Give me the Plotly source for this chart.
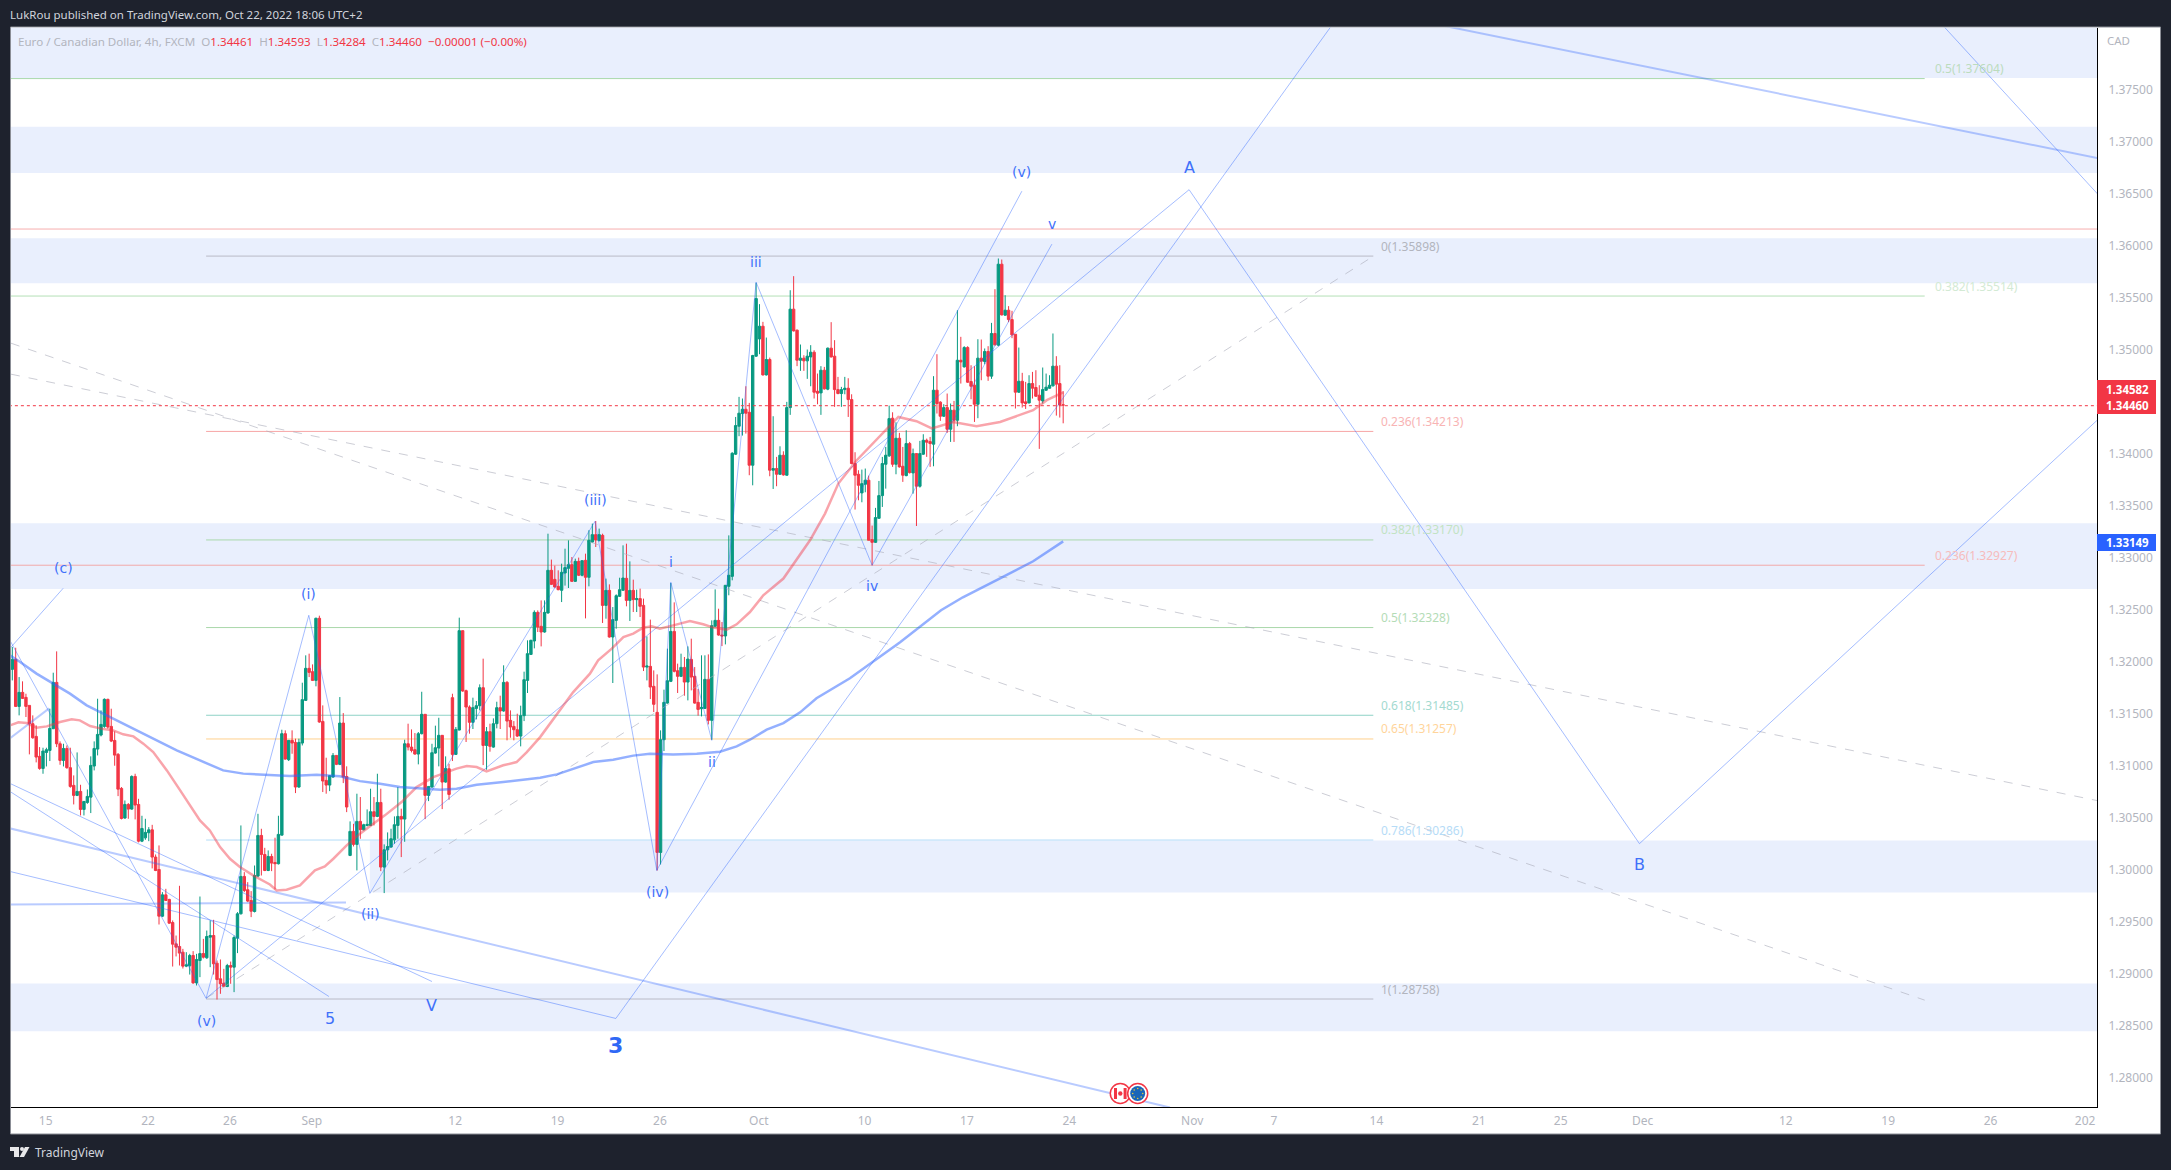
import plotly.graph_objects as go

# prices below are kept in points above 1.0 (32015 = 1.32015)
opens = [
    31919,32015,31563,31698,31650,31573,31397,31275,31083,30967,31121,31140,31349,31794,31204,31044,31159,30974,30804,30708,
    30746,30573,30640,30691,30990,31153,31288,31371,31631,31371,31236,31102,30775,30490,30621,30576,30890,30621,30268,30300,
    30349,30377,30115,29996,29547,29752,29708,29486,29281,29256,29201,29067,29070,29169,28906,29121,29188,29147,29345,29361,
    29095,28945,28903,28871,29073,29057,29336,29570,29929,29801,29698,29592,29932,30323,30140,29986,
    30121,30063,30051,30326,31301,31051,31237,31217,30788,31211,31621,31929,31897,31813,32410,31419,30852,30807,30884,31092,
    31006,31403,30890,30131,30362,30237,30458,30378,30419,30419,30551,30506,30640,30019,30185,30211,30281,30419,30506,30480,
    31204,31172,31147,31105,31301,31487,30708,30788,31115,31163,31285,30836,30964,31647,31102,31336,32291,31714,31557,31410,
    31544,31570,31743,31188,31320,31172,31397,31551,31519,31794,31429,31371,31339,31278,31474,31813,32063,32192,32467,
    32333,32278,32461,32871,32784,32717,32679,32845,32890,32925,32765,32957,32823,32967,32804,33143,33214,33156,33207,32534,
    32679,32230,32390,32621,32679,32794,32582,32679,32589,32599,32534,31941,31948,31756,31506,30160,31243,31595,31804,32284,
    31906,31852,31938,31797,32015,31852,31602,31541,31544,31823,31429,32333,32390,32249,32240,32717,32813,
    33987,34256,34378,34419,34390,33881,34929,35095,35217,34749,34897,33833,33849,33794,33977,33785,34435,35381,35179,34890,
    34910,34884,34922,34967,34592,34576,34794,34612,35006,34929,34608,34570,34608,34621,34512,33897,33794,33615,33698,33737,
    33166,33140,33371,33589,33890,33971,
    34333,33890,34140,33871,33781,34089,33807,33993,33679,33987,34121,34108,34083,34602,34487,34352,34435,34227,34410,34313,
    34890,34826,35012,34685,34650,34467,34910,34878,34974,34737,35147,35035,35813,35323,35371,35281,35140,34583,34688,34490,
    34480,34666,34628,34554,34499,34602,34621,34644,34833,34666,34461,
]
highs = [
    32134,32127,31845,31804,31685,31573,31477,31381,31172,31166,31166,31541,31887,32092,31227,31204,31188,31166,30900,31121,
    30810,30653,30765,31083,31227,31637,31525,31640,31637,31541,31323,31115,30788,30659,30634,30900,30916,30675,30512,30483,
    30403,30425,30140,30227,29778,29810,29714,29506,29361,29839,29233,29201,29185,29211,29185,29736,29329,29409,29506,29512,
    29121,29131,29041,29089,29111,29361,29586,30419,29970,29874,29788,30034,30531,30387,30204,30179,
    30147,30301,30512,31339,31333,31237,31333,31253,31253,31791,32054,32070,31967,32416,32435,31573,31070,30900,31115,31092,
    31653,31499,30987,30458,30435,30724,30692,30435,30573,30772,30692,30916,30772,30237,30352,30387,30506,30788,30580,31243,
    31397,31342,31307,31317,31704,31487,30794,31204,31378,31454,31288,31083,31012,31685,31365,32416,32291,31724,31573,31647,
    31615,31775,32022,31365,31397,31448,31608,31666,31958,31807,31525,31422,31493,31570,31897,32198,32204,32486,32486,
    32582,32582,33223,32974,32916,32871,32935,33079,33159,32999,32983,32993,32964,33031,33256,33320,33345,33272,33223,32791,
    32736,32518,32640,32800,33111,33127,32957,32781,32685,32695,32599,32236,32397,31909,31871,31333,31724,32118,32749,32563,
    31974,32070,32038,32140,32214,31941,31730,32054,32054,32063,32390,32688,32502,32374,32727,33207,34006,
    34345,34538,34522,34640,34480,34942,35634,35429,35259,35108,34916,34352,33961,34063,34015,34490,35563,35698,35185,35041,
    34938,34993,35035,34986,34762,34833,34826,35012,35256,35083,34730,34634,34730,34717,34563,34006,33833,33839,33849,33781,
    33301,33471,33730,33961,34057,34454,
    34390,34294,34192,34057,34217,34105,34041,33993,34115,34179,34137,34153,34737,34948,34496,34467,34570,34474,34499,35371,
    35115,35025,35025,34842,34833,35092,35089,35003,35025,35249,35573,35868,35858,35515,35410,35365,35140,35012,34769,34682,
    34746,34778,34794,34650,34820,34762,34746,35147,34929,34842,34593,
]
lows = [
    31813,31557,31477,31634,31461,31102,31252,31025,30954,30916,30986,31038,31345,31172,31002,30986,30964,30781,30621,30701,
    30515,30515,30627,30538,30948,31092,31275,31358,31349,31220,30993,30701,30477,30483,30483,30570,30477,30256,30259,30281,
    30268,30006,29980,29467,29538,29692,29474,29063,29160,29073,29044,29057,28986,28897,28881,28961,29140,29137,29057,28986,
    28746,28801,28865,28865,28897,28817,29192,29563,29778,29682,29538,29583,29922,29938,29980,29980,
    29980,29804,30044,30323,31051,31038,31108,30730,30781,31188,31615,31845,31807,31756,31406,30740,30724,30749,30878,30999,
    30999,30826,30547,30124,30217,29987,30291,30371,30410,30413,30419,30499,29980,29769,30083,30205,30243,30291,30115,30262,
    31140,31121,31099,31006,31294,30480,30653,30781,31108,30987,30576,30830,30666,31038,31096,31333,31704,31221,31301,31346,
    31438,31525,30999,30955,31128,31166,31352,31346,31512,31237,31262,31237,31269,31179,31422,31692,32057,32121,32278,
    32140,32272,32454,32730,32704,32679,32566,32724,32701,32759,32759,32816,32813,32409,32717,33137,33095,33150,32365,32406,
    32224,31788,32310,32615,32672,32525,32384,32470,32470,32422,31903,31813,31634,31509,29986,30044,31134,31589,31797,31890,
    31692,31845,31666,31621,31717,31589,31474,31467,31538,31390,31243,32326,32243,32143,32159,32631,32775,
    33980,34160,34166,34185,33785,33688,34922,34948,34743,34743,33775,33653,33679,33788,33781,33781,34365,35166,34833,34788,
    34788,34711,34640,34522,34467,34365,34608,34602,34916,34442,34563,34442,34563,34345,33890,33455,33544,33525,33621,33160,
    32919,33134,33365,33480,33656,33961,
    33865,33794,33858,33721,33775,33801,33608,33297,33666,33980,33961,33865,33871,34378,34307,34345,34192,34105,34105,34256,
    34666,34820,34672,34515,34297,34333,34698,34852,34692,34711,35031,35025,35320,35317,35256,35102,34426,34576,34435,34422,
    34474,34522,34538,34038,34474,34595,34615,34637,34358,34339,34284,
]
closes = [
    32015,31563,31698,31640,31563,31397,31262,31076,30967,31134,31147,31352,31794,31204,31044,31159,30974,30794,30708,30746,
    30573,30650,30698,30996,31159,31294,31390,31631,31365,31230,31095,30768,30486,30621,30576,30890,30615,30268,30390,30352,
    30377,30115,29986,29547,29752,29698,29480,29278,29249,29192,29067,29079,29169,28906,29131,29188,29153,29352,29361,29089,
    28938,28897,28871,29073,29057,29342,29570,29929,29794,29692,29595,29938,30323,30140,29986,30121,
    30057,30051,30333,31301,31057,31237,31211,30788,31217,31628,31929,31890,31813,32410,31413,30846,30807,30897,31092,31006,
    31403,30884,30596,30362,30237,30458,30378,30426,30429,30551,30506,30640,30019,30185,30217,30291,30426,30506,30480,31204,
    31172,31140,31105,31301,31487,30708,30794,31118,31166,31285,30836,30967,30717,31102,31342,32291,31711,31557,31410,31551,
    31570,31743,31188,31320,31179,31397,31551,31519,31794,31422,31365,31339,31278,31474,31820,32070,32198,32467,32326,
    32278,32467,32871,32736,32711,32685,32852,32897,32925,32765,32957,32823,32964,32804,33159,33214,33163,33214,32534,32679,
    32230,32397,32627,32685,32797,32582,32679,32589,32599,32525,31941,31951,31749,31583,30160,31243,31602,31810,32284,31900,
    31852,31938,31797,32018,31845,31595,31534,31554,31823,31429,32339,32390,32249,32240,32727,32823,33996,
    34262,34381,34419,34381,33881,34935,35483,35217,34749,34897,33833,33849,33794,33977,33788,34435,35381,35172,34890,34910,
    34884,34929,34967,34583,34573,34794,34615,35006,34922,34608,34570,34608,34621,34512,33897,33785,33688,33704,33737,33160,
    33140,33378,33589,33897,33977,34329,
    33890,34140,33865,33785,34089,33810,33993,33679,33993,34121,34102,34089,34602,34474,34352,34435,34227,34410,34313,34890,
    34874,35012,34679,34640,34467,34910,34881,34974,34737,35147,35038,35813,35326,35371,35281,35134,34583,34688,34480,34474,
    34666,34621,34544,34506,34608,34631,34650,34833,34660,34461,34460,
]

ma_red_index = [-0.7,1.8,4.2,7.1,10.1,14,17.4,19.8,22.8,26.7,29.6,32.5,35.5,38.4,41.3,45.3,49.2,52.6,55,57.9,60.9,63.8,66.7,70.6,75.5,
    77.5,80.4,84.3,88.7,91.6,94.1,98,101.9,105.8,109.2,114.1,118.5,123.4,126.3,130.2,133.2,136.1,139,143.9,147.8,150.8,154.7,
    157.6,161,164.4,169.3,171.7,175.7,179.1,182,184.9,187.4,189.8,193.7,198.6,202.5,205.5,209.4,212.3,216.2,220.1,226,230.9,
    233.8,238.2,242.1,247.5,252.3,256.3,259.7,265,269.5,275.8,282.6,289.5,294.4,299.2,303.2,308]
ma_red_value = [31381,31410,31403,31359,31371,31413,31439,31429,31374,31345,31333,31295,31275,31205,31124,30948,30756,30580,30468,30371,30211,30099,30019,29939,29852,
    29795,29801,29843,29987,30025,30099,30227,30340,30436,30516,30644,30788,30884,30917,30965,30990,30980,30939,30997,31028,31124,31268,
    31397,31557,31701,31878,32006,32118,32230,32263,32320,32333,32311,32342,32384,32352,32320,32301,32352,32470,32631,32792,33016,
    33160,33416,33705,33929,34090,34234,34345,34304,34234,34297,34256,34297,34352,34410,34506,34582]

ma_blue_index = [-0.7,2.3,7.1,12,16.9,21.8,28.6,35.5,41.3,48.2,55,61.8,67.7,75.5,81.4,89.2,96,101.9,107.8,113.6,119.5,125.4,130.2,136.1,143.9,154.7,
    159.6,164.4,170.3,176.1,182,186.9,193.7,200.6,207.4,212.3,216.2,221.1,226,230.9,235.7,245.5,260.2,272.2,278.6,289.5,299.2,308]
ma_blue_value = [32054,31990,31878,31782,31686,31573,31461,31343,31253,31141,31044,30948,30917,30900,30894,30907,30891,30845,30820,30788,30772,30763,30772,30811,30836,30878,
    30910,30965,31028,31051,31090,31109,31102,31109,31128,31179,31243,31340,31403,31506,31641,31833,32179,32487,32612,32794,32958,33149]

# wave drawings, None splits them
wave_index = [56.8,86.9,104.8,170.8,188.9,193,205,218,252,304.7,None,188.9,295.9,None,56.8,344.9,476.9,611.2,None,
    176.9,386.8,None,-0.7,56.8,None,-0.7,14.9,None,-0.7,92.8,None,-0.7,123,None,-0.7,176.9,None,565.7,611.2]
wave_value = [28758,32439,29766,33342,29987,32756,31237,35640,32919,36006,None,29987,36515,None,28758,36529,30244,34318,None,
    28564,38112,None,32198,28758,None,32121,32698,None,30746,28775,None,30823,28919,None,29977,28564,None,38112,36487]
thick_index = [-0.7,339.3,None,418.4,611.2,None,-0.7,97.8,None,-0.7,10.8]
thick_value = [30391,27708,None,38112,36833,None,29660,29679,None,31256,31544]
dash_index = [56.8,398.9,None,-0.4,611.2,None,-0.4,560.5]
dash_value = [28758,35890,None,34756,30657,None,35054,28740]

wave_labels = ["(c)","(i)","(ii)","(iii)","(iv)","(v)","i","ii","iii","iv","v","(v)"]
wave_label_index = [15.1,86.9,105.1,170.9,189.2,56.9,193.2,205,218,252,304.8,295.9]
wave_label_value = [32893,32641,29566,33546,29778,28541,32948,31030,35836,32720,36195,36701]
big_labels = ["A","B","5","V"]
big_label_index = [345,476.9,93,123]
big_label_value = [36741,30045,28567,28689]

zone_low = [37602,36689,35631,32692,29775,28442]
zone_high = [38200,37134,36063,33323,30275,28900]
zone_start = [-1,-1,-1,-1,104.8,-1]

fib_levels = [1.35898,1.34213,1.33170,1.32328,1.31485,1.31257,1.30286,1.28758]
fib_names = ["0","0.236","0.382","0.5","0.618","0.65","0.786","1"]
fib_colors = ["#b9bac6","#f7a5a5","#a9d8ab","#a9d8ab","#8ed2c6","#ffd08c","#b3dcf8","#b9bac6"]
fib_text_colors = ["#b2b5be","#f8b4b4","#c2e3c3","#b4dcb6","#a3dad0","#ffd59b","#b6dcf7","#b2b5be"]
ext_levels = [1.37604,1.35514,1.32927]
ext_names = ["0.5","0.382","0.236"]
ext_colors = ["#a9d8ab","#b5e0b7","#f2a9a9"]
ext_text_colors = ["#bcdcbd","#d3ead4","#f6bcbc"]

y_ticks = [1.28,1.285,1.29,1.295,1.30,1.305,1.31,1.315,1.32,1.325,1.33,1.335,1.34,1.345,1.35,1.355,1.36,1.365,1.37,1.375]
x_tick_index = [9.8,39.8,63.8,87.8,129.8,159.8,189.8,218.8,249.8,279.8,309.8,345.8,369.8,399.8,429.8,453.8,477.8,519.8,549.8,579.8,607.5]
x_tick_text = ["15","22","26","Sep","12","19","26","Oct","10","17","24","Nov","7","14","21","25","Dec","12","19","26","202"]

W, H = 2171, 1170
DARK = "#1e222d"
FONT = "Noto Sans"
LABEL_FONT = "DejaVu Sans"
BLUE_TEXT = "#3f71fa"
GRAY = "#b2b5be"
# the readings came out a hair low against the printed levels
READ_OFFSET = 7
Y_TOP, Y_SCALE = 89.4, 10405


def fx(x):
    return x / W


def fy(y):
    return 1 - y / H


def price(points):
    return [None if p is None else 1 + (p + READ_OFFSET) / 1e5 for p in points]


fig = go.Figure()

fig.add_trace(go.Candlestick(
    x=list(range(len(opens))),
    open=price(opens), high=price(highs), low=price(lows), close=price(closes),
    increasing=dict(line=dict(color="#089981", width=1), fillcolor="#089981"),
    decreasing=dict(line=dict(color="#f23645", width=1), fillcolor="#f23645"),
    whiskerwidth=0, hoverinfo="skip",
))


def add_line(xs, ys, color, width, dash="solid"):
    fig.add_trace(go.Scatter(x=xs, y=price(ys), mode="lines", hoverinfo="skip",
                             line=dict(color=color, width=width, dash=dash)))


add_line(dash_index, dash_value, "rgba(170,172,185,0.6)", 1, "dash")
add_line(wave_index, wave_value, "rgba(41,98,255,0.42)", 1)
add_line(thick_index, thick_value, "rgba(41,98,255,0.33)", 2)
add_line(ma_red_index, ma_red_value, "rgba(242,54,69,0.45)", 2.5)
add_line(ma_blue_index, ma_blue_value, "rgba(41,98,255,0.5)", 2.5)

shapes = [
    dict(type="rect", xref="paper", yref="paper", x0=fx(10.5), x1=fx(2160.5), y0=fy(1134), y1=fy(27),
         fillcolor="white", line=dict(color="#8b8e96", width=1), layer="below"),
]
for low, high, start in zip(zone_low, zone_high, zone_start):
    shapes.append(dict(type="rect", xref="x", yref="y", x0=start, x1=612,
                       y0=1 + (low + READ_OFFSET) / 1e5, y1=1 + (high + READ_OFFSET) / 1e5,
                       fillcolor="#e9effd", line=dict(width=0), layer="below"))

annotations = []


def add_text(text, x, y, size, color, xanchor="center", xref="x", yref="y", family=FONT, yshift=0, **extra):
    annotations.append(dict(text=text, x=x, y=y, xref=xref, yref=yref, showarrow=False, xanchor=xanchor, yanchor="middle",
                            yshift=yshift, font=dict(size=size, color=color, family=family), **extra))


for level, name, color, text_color in zip(fib_levels, fib_names, fib_colors, fib_text_colors):
    shapes.append(dict(type="line", xref="x", yref="y", x0=56.8, x1=398.9, y0=level, y1=level,
                       line=dict(color=color, width=1), layer="below"))
    add_text(f"{name}({level:.5f})", 400.5, level, 12, text_color, "left", yshift=10)
for level, name, color, text_color in zip(ext_levels, ext_names, ext_colors, ext_text_colors):
    shapes.append(dict(type="line", xref="x", yref="y", x0=-1, x1=560.5, y0=level, y1=level,
                       line=dict(color=color, width=1), layer="below"))
    add_text(f"{name}({level:.5f})", 562.9, level, 12, text_color, "left", yshift=10)

# pale red level across the chart and the last price line
shapes.append(dict(type="line", xref="x", yref="y", x0=-1, x1=612, y0=1.36158, y1=1.36158,
                   line=dict(color="#f7aeae", width=1), layer="below"))
shapes.append(dict(type="line", xref="x", yref="y", x0=-1, x1=612, y0=1.3446, y1=1.3446,
                   line=dict(color="#f23645", width=1, dash="dot")))

for text, idx, val in zip(wave_labels, wave_label_index, wave_label_value):
    add_text(text, idx, 1 + (val + READ_OFFSET) / 1e5, 14, BLUE_TEXT, family=LABEL_FONT)
for text, idx, val in zip(big_labels, big_label_index, big_label_value):
    add_text(text, idx, 1 + (val + READ_OFFSET) / 1e5, 16, BLUE_TEXT, family=LABEL_FONT)
add_text("<b>3</b>", 176.9, 1.28311, 22, "#2f68f5", family=LABEL_FONT)

# header and footer
add_text("LukRou published on TradingView.com, Oct 22, 2022 18:06 UTC+2", fx(8), fy(15), 11.5, "#d1d4dc", "left", "paper", "paper")
red = "color:#f23645"
add_text(f"Euro / Canadian Dollar, 4h, FXCM  O<span style='{red}'>1.34461</span>  H<span style='{red}'>1.34593</span>"
         f"  L<span style='{red}'>1.34284</span>  C<span style='{red}'>1.34460</span>"
         f"  <span style='{red}'>−0.00001 (−0.00%)</span>",
         fx(16), fy(42), 11.6, GRAY, "left", "paper", "paper")
add_text("CAD", fx(2105), fy(41), 11.5, GRAY, "left", "paper", "paper")
add_text("TradingView", fx(33), fy(1152), 12, "#d1d4dc", "left", "paper", "paper")


def path(points):
    return "M " + " L ".join(f"{fx(x)} {fy(y)}" for x, y in points) + " Z"


for pts in [[(10, 1147), (19, 1147), (19, 1157), (14, 1157), (14, 1151), (10, 1151)],
            [(25, 1147), (29.5, 1147), (24, 1157), (19.5, 1157)]]:
    shapes.append(dict(type="path", xref="paper", yref="paper", path=path(pts), fillcolor="#e8e8ea", line=dict(width=0)))
shapes.append(dict(type="circle", xref="paper", yref="paper", x0=fx(20), x1=fx(24), y0=fy(1151), y1=fy(1147),
                   fillcolor="#e8e8ea", line=dict(width=0)))

# price scale tags: the two red ones share one box
shapes.append(dict(type="rect", xref="paper", yref="paper", x0=fx(2097), x1=fx(2156), y0=fy(414), y1=fy(380),
                   fillcolor="#f23645", line=dict(width=0)))
add_text("<b>1.34582</b>", fx(2127), 1.34582, 11.5, "white", "center", "paper", "y", yshift=4)
add_text("<b>1.34460</b>", fx(2127), 1.3446, 11.5, "white", "center", "paper", "y")
y_blue = Y_TOP + (1.375 - 1.33149) * Y_SCALE
shapes.append(dict(type="rect", xref="paper", yref="paper", x0=fx(2097), x1=fx(2156), y0=fy(y_blue + 9), y1=fy(y_blue - 8),
                   fillcolor="#2962ff", line=dict(width=0)))
add_text("<b>1.33149</b>", fx(2127), 1.33149, 11.5, "white", "center", "paper", "y")


def circle(cx, cy, r, **kw):
    return dict(type="circle", xref="paper", yref="paper", x0=fx(cx - r), x1=fx(cx + r), y0=fy(cy + r), y1=fy(cy - r), **kw)


# event flags
shapes.append(circle(1120.3, 1093.5, 10, fillcolor="white", line=dict(color="#f23645", width=1.5)))
for x0, x1 in [(1114, 1117), (1123.6, 1126.6)]:
    shapes.append(dict(type="rect", xref="paper", yref="paper", x0=fx(x0), x1=fx(x1), y0=fy(1099), y1=fy(1088),
                       fillcolor="#f23645", line=dict(width=0)))
shapes.append(circle(1120.3, 1093.5, 2.2, fillcolor="#f23645", line=dict(width=0)))
shapes.append(circle(1137.7, 1093.5, 10, fillcolor="white", line=dict(color="#f23645", width=1.5)))
shapes.append(circle(1137.7, 1093.5, 7.5, fillcolor="#1b66b8", line=dict(width=0)))
for dx, dy in [(0, -5), (3.5, -3.5), (5, 0), (3.5, 3.5), (0, 5), (-3.5, 3.5), (-5, 0), (-3.5, -3.5)]:
    shapes.append(circle(1137.7 + dx, 1093.5 + dy, 0.8, fillcolor="#e3c93b", line=dict(width=0)))

fig.update_layout(
    width=W, height=H, autosize=False, showlegend=False,
    margin=dict(l=0, r=0, t=0, b=0, pad=0),
    paper_bgcolor=DARK, plot_bgcolor="white",
    boxgap=0.3, boxgroupgap=0,
    shapes=shapes, annotations=annotations,
    xaxis=dict(
        domain=[fx(11), fx(2097)], range=[-0.38, 611.0], rangeslider=dict(visible=False),
        showgrid=False, zeroline=False, showline=True, linecolor="black", linewidth=1,
        tickmode="array", tickvals=x_tick_index, ticktext=x_tick_text, ticks="", ticklabelstandoff=3,
        tickfont=dict(size=12, color=GRAY, family=FONT), tickangle=0,
    ),
    yaxis=dict(
        domain=[fy(1107), fy(27.7)], range=[1.375 - (1107 - Y_TOP) / Y_SCALE, 1.375 + (Y_TOP - 27.7) / Y_SCALE],
        side="right", anchor="x",
        showgrid=False, zeroline=False, showline=True, linecolor="black", linewidth=1,
        tickmode="array", tickvals=y_ticks, ticktext=[f"{t:.5f}" for t in y_ticks], ticks="", ticklabelstandoff=8,
        tickfont=dict(size=12, color=GRAY, family=FONT),
    ),
)

fig.write_html("out.html", config=dict(displayModeBar=False),
               post_script=f"document.body.style.margin='0';document.body.style.background='{DARK}';")
